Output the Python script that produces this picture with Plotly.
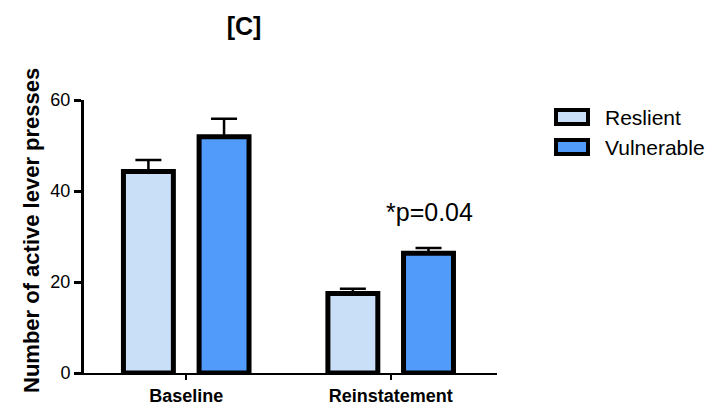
import plotly.graph_objects as go

categories = ["Baseline", "Reinstatement"]
series_names = ["Reslient", "Vulnerable"]
resilient_mean = [44.3, 17.5]
resilient_sem = [2.5, 1.0]
vulnerable_mean = [51.9, 26.3]
vulnerable_sem = [4.0, 1.2]
colors = ["#c9dff8", "#519cfb"]
y_ticks = [0, 20, 40, 60]
annotation_text = "*p=0.04"
y_title = "Number of active lever presses"
panel_title = "[C]"

FONT = "Liberation Sans, Arial, sans-serif"
L, R, T, B = 84, 213, 100, 32
PW, PH = 710 - L - R, 405 - T - B

fig = go.Figure()
for name, means, errs, col in [
    (series_names[0], resilient_mean, resilient_sem, colors[0]),
    (series_names[1], vulnerable_mean, vulnerable_sem, colors[1]),
]:
    fig.add_trace(go.Bar(
        x=categories, y=means, name=name,
        marker=dict(color=col, line=dict(color="black", width=5)),
        error_y=dict(type="data", array=errs, arrayminus=[0] * len(errs),
                     symmetric=False, color="black", thickness=2.5, width=13),
        showlegend=False,
    ))

fig.update_layout(
    width=710, height=405,
    margin=dict(l=L, r=R, t=T, b=B, autoexpand=False),
    plot_bgcolor="white", paper_bgcolor="white",
    barmode="group", bargap=0.26, bargroupgap=0.34,
    font=dict(family=FONT, color="black"),
    title=dict(text="<b>" + panel_title + "</b>", x=244 / 710, xanchor="center",
               y=1 - 26 / 405, yanchor="middle", font=dict(size=25, family=FONT)),
)
fig.update_xaxes(
    range=[-0.5, 1.52], showline=True, linecolor="black", linewidth=2,
    ticks="outside", ticklen=5, tickwidth=2, tickcolor="black",
    tickfont=dict(size=18, family=FONT), showgrid=False, zeroline=False,
    tickprefix="<b>", ticksuffix="</b>", automargin=False,
)
fig.update_yaxes(
    range=[0, 60], tickvals=y_ticks, showline=True, linecolor="black", linewidth=3,
    ticks="outside", ticklen=7, tickwidth=2.5, tickcolor="black",
    tickfont=dict(size=18, family=FONT), showgrid=False, zeroline=False,
    tickprefix="<b>", ticksuffix="</b>", automargin=False,
)

fig.add_annotation(xref="paper", yref="paper", x=(31 - L) / PW, y=(373 - 231) / PH,
                   text="<b>" + y_title + "</b>", textangle=-90, showarrow=False,
                   xanchor="center", yanchor="middle", font=dict(size=22, family=FONT))

fig.add_annotation(x=1.19, y=35.4, xref="x", yref="y", text=annotation_text,
                   showarrow=False, font=dict(size=25, family=FONT), xanchor="center",
                   yanchor="middle")

# Legend drawn manually
legend_rows = [(117, colors[0], series_names[0]), (147, colors[1], series_names[1])]
for yc, col, name in legend_rows:
    y0 = (373 - (yc + 7)) / PH
    y1 = (373 - (yc - 7)) / PH
    fig.add_shape(type="rect", xref="paper", yref="paper",
                  x0=(556 - L) / PW, x1=(588 - L) / PW, y0=y0, y1=y1,
                  fillcolor=col, line=dict(color="black", width=4))
    fig.add_annotation(xref="paper", yref="paper", x=(603 - L) / PW,
                       y=(373 - yc) / PH, text=name, showarrow=False,
                       xanchor="left", yanchor="middle",
                       font=dict(size=21, family=FONT))

fig.write_html("out.html")
